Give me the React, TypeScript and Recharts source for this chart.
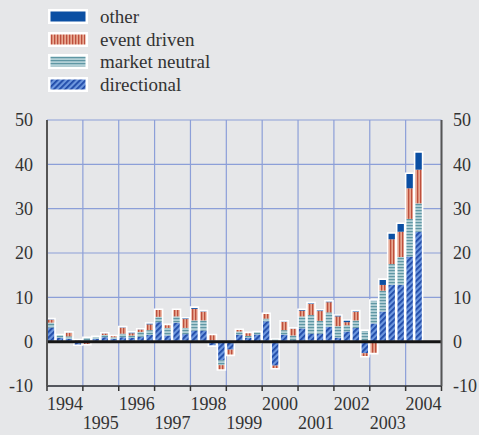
import { BarChart, Bar, XAxis, YAxis, CartesianGrid, ReferenceLine, Legend } from "recharts";

const quarters = [
  "1994Q1", "1994Q2", "1994Q3", "1994Q4",
  "1995Q1", "1995Q2", "1995Q3", "1995Q4",
  "1996Q1", "1996Q2", "1996Q3", "1996Q4",
  "1997Q1", "1997Q2", "1997Q3", "1997Q4",
  "1998Q1", "1998Q2", "1998Q3", "1998Q4",
  "1999Q1", "1999Q2", "1999Q3", "1999Q4",
  "2000Q1", "2000Q2", "2000Q3", "2000Q4",
  "2001Q1", "2001Q2", "2001Q3", "2001Q4",
  "2002Q1", "2002Q2", "2002Q3", "2002Q4",
  "2003Q1", "2003Q2", "2003Q3", "2003Q4",
  "2004Q1", "2004Q2",
];

const directional = [
  3.2, 0.9, 0.6, -0.8, 0.2, 0.6, 1.0, 0.6, 1.0, 0.8, 1.1, 1.5, 4.4, 1.4, 4.3, 1.7,
  2.5, 2.5, -1.0, -4.2, -1.8, 1.6, 0.9, 1.6, 4.6, -5.4, 1.6, 0.4, 3.0, 1.8, 1.8, 3.3,
  0.9, 2.3, 3.1, -2.6, 4.1, 6.8, 12.8, 12.8, 19.2, 24.8,
];
const marketNeutral = [
  1.1, 0.6, 0.6, 0.3, 0.8, 0.5, 0.5, 0.4, 0.8, 0.6, 1.1, 1.1, 1.2, 1.7, 1.4, 1.4,
  2.3, 2.3, 0.3, -1.1, 0, 0.7, 0.4, 0.7, 0.6, 0.6, 1.0, 1.0, 2.7, 4.2, 2.9, 3.3,
  2.6, 1.4, 1.7, 2.6, 5.2, 4.7, 4.7, 6.3, 8.5, 6.4,
];
const eventDriven = [
  0.7, 0, 0.9, 0.2, -0.7, 0.1, 0.4, 0.4, 1.4, 0.5, 0.6, 1.3, 1.6, 0.8, 1.5, 2.0,
  2.6, 2.0, 1.2, -1.1, -1.3, 0.5, 0.8, -0.3, 1.1, -0.7, 1.9, 1.6, 1.3, 2.5, 2.2, 2.3,
  2.2, 0.7, 1.9, -0.8, -2.7, 1.3, 5.6, 5.7, 6.9, 7.6,
];
const other = [
  0.2, 0.1, 0.1, 0, 0, 0, 0.1, 0, 0.2, 0.3, 0.1, 0.3, 0.1, 0, 0.1, 0.3,
  0.4, 0.2, 0.1, 0, 0, -0.3, -0.3, 0, 0.1, 0, 0.2, 0.1, 0.3, 0.3, 0.3, 0.3,
  0.3, 0.5, 0.3, 0, 0.1, 1.3, 1.4, 1.9, 3.4, 4.0,
];

const yearEdges = [1994, 1995, 1996, 1997, 1998, 1999, 2000, 2001, 2002, 2003, 2004, 2005];
const yearLabels = [1994, 1995, 1996, 1997, 1998, 1999, 2000, 2001, 2002, 2003, 2004];
const yTicks = [-10, 0, 10, 20, 30, 40, 50];

const series = [
  { key: "directional", name: "directional", fill: "url(#patDir)" },
  { key: "marketNeutral", name: "market neutral", fill: "url(#patMn)" },
  { key: "eventDriven", name: "event driven", fill: "url(#patEd)" },
  { key: "other", name: "other", fill: "#0b4fa3" },
];

const data = quarters.map((q, i) => {
  const year = Number(q.slice(0, 4));
  const qn = Number(q.slice(5));
  const parts = [directional[i], marketNeutral[i], eventDriven[i], other[i]];
  const neg = parts.filter((v) => v < 0).reduce((a, b) => a + b, 0);
  const pos = parts.filter((v) => v > 0).reduce((a, b) => a + b, 0);
  return {
    quarter: q,
    t: year + (qn - 0.5) / 4,
    directional: directional[i],
    marketNeutral: marketNeutral[i],
    eventDriven: eventDriven[i],
    other: other[i],
    range: [neg, pos],
  };
});

const FONT = "'Liberation Serif', 'DejaVu Serif', 'Noto Serif', serif";
const TEXT = "#333";

function YearTick(props: any) {
  const { x, y, payload, index } = props;
  return (
    <text x={x} y={y + (index % 2 ? 33 : 14)} textAnchor="middle" fill={TEXT} fontSize={18} fontFamily={FONT}>
      {Math.floor(payload.value)}
    </text>
  );
}

function LegendBox() {
  return (
    <div style={{ fontFamily: FONT, fontSize: 19, color: TEXT }}>
      {[...series].reverse().map((s) => (
        <div key={s.key} style={{ display: "flex", alignItems: "center", height: 22.7 }}>
          <svg width={40} height={15} style={{ display: "block" }}>
            <rect x={0} y={0} width={40} height={15} fill="#fff" />
            <rect x={2.5} y={2.5} width={35} height={10} fill={s.fill} />
          </svg>
          <span style={{ marginLeft: 12, lineHeight: 1 }}>{s.name}</span>
        </div>
      ))}
    </div>
  );
}

export default function App() {
  return (
    <div style={{ position: "absolute", left: 0, top: 0, width: 479, height: 435, background: "#e6e7e9", fontFamily: FONT }}>
      <BarChart
        width={479}
        height={435}
        data={data}
        stackOffset="sign"
        margin={{ top: 120, right: 0, bottom: 0, left: 0 }}
      >
        <defs>
          <pattern id="patDir" width="4" height="4" patternUnits="userSpaceOnUse" patternTransform="rotate(45)">
            <rect width="4" height="4" fill="#6d97de" />
            <rect width="1.8" height="4" fill="#1f4aa8" />
          </pattern>
          <pattern id="patMn" width="3" height="3" patternUnits="userSpaceOnUse">
            <rect width="3" height="3" fill="#b2d0d6" />
            <rect width="3" height="1.2" fill="#5f97a4" />
          </pattern>
          <pattern id="patEd" width="3" height="3" patternUnits="userSpaceOnUse">
            <rect width="3" height="3" fill="#e8a892" />
            <rect width="1.3" height="3" fill="#bd4f3d" />
          </pattern>
        </defs>
        <CartesianGrid xAxisId="grid" yAxisId="left" stroke="#8c9fd8" strokeWidth={1.2} />
        <XAxis
          xAxisId="grid"
          dataKey="t"
          type="number"
          domain={[1994, 2005]}
          ticks={yearEdges}
          tick={() => <g />}
          tickSize={5}
          height={10}
          interval={0}
          axisLine={{ stroke: "#333", strokeWidth: 1.5 }}
          tickLine={{ stroke: "#333", strokeWidth: 1.5 }}
        />
        <XAxis
          xAxisId="labels"
          dataKey="t"
          type="number"
          domain={[1994, 2005]}
          ticks={yearLabels.map((y) => y + 0.5)}
          tick={<YearTick />}
          tickLine={false}
          axisLine={false}
          tickSize={0}
          tickMargin={0}
          height={39}
          interval={0}
        />
        <YAxis
          yAxisId="left"
          domain={[-10, 50]}
          ticks={yTicks}
          width={47}
          tickLine={false}
          tickMargin={8}
          axisLine={{ stroke: "#555", strokeWidth: 2 }}
          tick={{ fontSize: 18, fill: TEXT, fontFamily: FONT }}
        />
        <YAxis
          yAxisId="right"
          orientation="right"
          domain={[-10, 50]}
          ticks={yTicks}
          width={37.5}
          tickLine={false}
          tickMargin={5.5}
          axisLine={{ stroke: "#555", strokeWidth: 2 }}
          tick={{ fontSize: 18, fill: TEXT, fontFamily: FONT, textAnchor: "start" }}
        />
        <Legend
          layout="vertical"
          align="center"
          verticalAlign="middle"
          content={<LegendBox />}
          wrapperStyle={{ left: 48, top: 5, width: 220 }}
        />
        {series.map((s) => (
          <Bar
            key={s.key}
            dataKey={s.key}
            name={s.name}
            stackId="a"
            xAxisId="grid"
            yAxisId="left"
            fill={s.fill}
            barSize={8}
            isAnimationActive={false}
          />
        ))}
        <Bar
          dataKey="range"
          xAxisId="labels"
          yAxisId="right"
          fill="none"
          stroke="#fff"
          strokeWidth={1.6}
          barSize={8}
          legendType="none"
          isAnimationActive={false}
        />
        <ReferenceLine y={0} xAxisId="grid" yAxisId="left" stroke="#151515" strokeWidth={3} />
      </BarChart>
    </div>
  );
}
